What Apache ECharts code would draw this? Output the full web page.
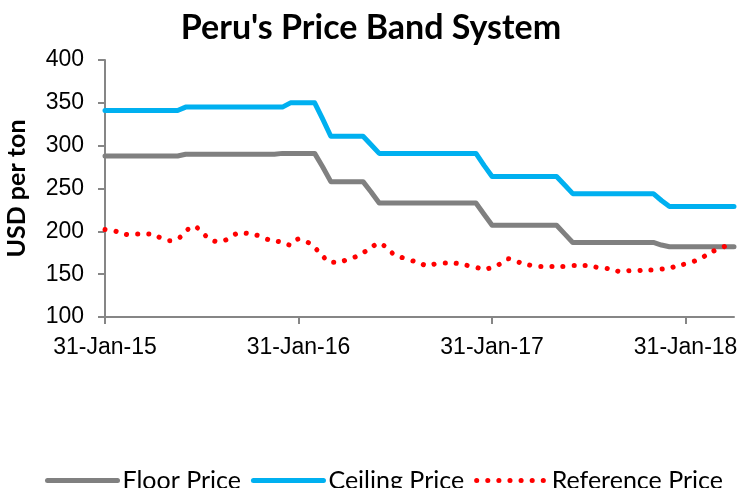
<!DOCTYPE html>
<html>
<head>
<meta charset="utf-8">
<script src="https://cdn.jsdelivr.net/npm/echarts@6/dist/echarts.min.js"></script>
<style>
html,body{margin:0;padding:0;background:#fff;}
#chart{width:742px;height:488px;}
</style>
</head>
<body>
<div id="chart"></div>
<script>
// Semi-monthly dates (31-Jan-15 .. 30-Apr-18)
var categories = [
'31-Jan-15','15-Feb-15','28-Feb-15','15-Mar-15','31-Mar-15','15-Apr-15','30-Apr-15','15-May-15','31-May-15','15-Jun-15','30-Jun-15','15-Jul-15','31-Jul-15','15-Aug-15','31-Aug-15','15-Sep-15','30-Sep-15','15-Oct-15','31-Oct-15','15-Nov-15','30-Nov-15','15-Dec-15','31-Dec-15','15-Jan-16',
'31-Jan-16','15-Feb-16','29-Feb-16','15-Mar-16','31-Mar-16','15-Apr-16','30-Apr-16','15-May-16','31-May-16','15-Jun-16','30-Jun-16','15-Jul-16','31-Jul-16','15-Aug-16','31-Aug-16','15-Sep-16','30-Sep-16','15-Oct-16','31-Oct-16','15-Nov-16','30-Nov-16','15-Dec-16','31-Dec-16','15-Jan-17',
'31-Jan-17','15-Feb-17','28-Feb-17','15-Mar-17','31-Mar-17','15-Apr-17','30-Apr-17','15-May-17','31-May-17','15-Jun-17','30-Jun-17','15-Jul-17','31-Jul-17','15-Aug-17','31-Aug-17','15-Sep-17','30-Sep-17','15-Oct-17','31-Oct-17','15-Nov-17','30-Nov-17','15-Dec-17','31-Dec-17','15-Jan-18',
'31-Jan-18','15-Feb-18','28-Feb-18','15-Mar-18','31-Mar-18','15-Apr-18','30-Apr-18'
];

var floorPrice = [
288,288,288,288,288,288,288,288,288,288,
290,290,290,290,290,290,290,290,290,290,290,290,
291,291,291,291,291,
275,
258,258,258,258,258,
246,
233,233,233,233,233,233,233,233,233,233,233,233,233,
220,
207,207,207,207,207,207,207,207,207,
197,
187,187,187,187,187,187,187,187,187,187,187,
184,
182,182,182,182,182,182,182,182,182
];

var ceilingPrice = [
341,341,341,341,341,341,341,341,341,341,
345,345,345,345,345,345,345,345,345,345,345,345,345,
350,350,350,350,
331,
311,311,311,311,311,
301,
291,291,291,291,291,291,291,291,291,291,291,291,291,
277,
264,264,264,264,264,264,264,264,264,
254,
244,244,244,244,244,244,244,244,244,244,244,
236,
229,229,229,229,229,229,229,229,229
];

var referencePrice = [
202,201,198,196,197,197,196,192,189,191,
200,206,199,191,188,190,196,198,197,195,
191,189,187,184,191,188,181,171,164,164,
167,170,175,181,186,180,172,169,166,163,
160,162,163,163,162,160,158,156,158,162,
168,165,162,160,159,159,159,159,160,160,
160,158,157,155,153,154,154,155,155,156,
157,160,162,165,169,175,179,183
];

var yTicks = {min: 100, max: 400, step: 50};

var chart = echarts.init(document.getElementById('chart'), null, {renderer: 'canvas'});
var axisColor = '#868686';
var floorStyle = {color: '#808080', width: 5, cap: 'round', join: 'round'};
var ceilStyle = {color: '#00B0F0', width: 5, cap: 'round', join: 'round'};
var refStyle = {color: '#FF0000', width: 5, type: [0.1, 11], cap: 'round'};
var option = {
  animation: false,
  backgroundColor: '#ffffff',
  title: {
    text: "Peru's Price Band System",
    left: 'center',
    top: 6,
    textStyle: {fontFamily: 'Lato', fontWeight: 'bold', fontSize: 34, color: '#000'}
  },
  legend: {
    left: 45,
    top: 468,
    padding: 0,
    itemWidth: 70,
    itemHeight: 14,
    itemGap: 10,
    textStyle: {fontFamily: 'Lato', fontSize: 25, color: '#000'},
    data: [
      {name: 'Floor Price', lineStyle: floorStyle, itemStyle: {opacity: 0}},
      {name: 'Ceiling Price', lineStyle: ceilStyle, itemStyle: {opacity: 0}},
      {name: 'Reference Price', lineStyle: refStyle, itemStyle: {opacity: 0}}
    ]
  },
  grid: {left: 105, right: 8, top: 60, bottom: 171, containLabel: false, outerBoundsMode: 'none'},
  xAxis: {
    type: 'category',
    data: categories,
    boundaryGap: false,
    axisLine: {show: true, lineStyle: {color: axisColor, width: 2}},
    axisTick: {show: true, interval: 23, length: 7, lineStyle: {color: axisColor, width: 2}},
    axisLabel: {interval: 23, margin: 19, fontFamily: 'Liberation Sans', fontSize: 23, color: '#000'},
    splitLine: {show: false}
  },
  yAxis: {
    type: 'value',
    min: yTicks.min,
    max: yTicks.max,
    interval: yTicks.step,
    name: 'USD per ton',
    nameLocation: 'middle',
    nameRotate: 90,
    nameGap: 76,
    nameTextStyle: {fontFamily: 'Lato', fontWeight: 'bold', fontSize: 25, color: '#000'},
    axisLine: {show: true, lineStyle: {color: axisColor, width: 2}},
    axisTick: {show: true, length: 7, lineStyle: {color: axisColor, width: 2}},
    axisLabel: {margin: 21, fontFamily: 'Liberation Sans', fontSize: 23, color: '#000'},
    splitLine: {show: false}
  },
  series: [
    {
      name: 'Floor Price', type: 'line', data: floorPrice, symbol: 'none',
      lineStyle: floorStyle, itemStyle: {color: '#808080'}
    },
    {
      name: 'Ceiling Price', type: 'line', data: ceilingPrice, symbol: 'none',
      lineStyle: ceilStyle, itemStyle: {color: '#00B0F0'}
    },
    {
      name: 'Reference Price', type: 'line', data: referencePrice, symbol: 'none', smooth: 0.4,
      lineStyle: refStyle, itemStyle: {color: '#FF0000'}
    }
  ]
};
chart.setOption(option);
</script>
</body>
</html>
